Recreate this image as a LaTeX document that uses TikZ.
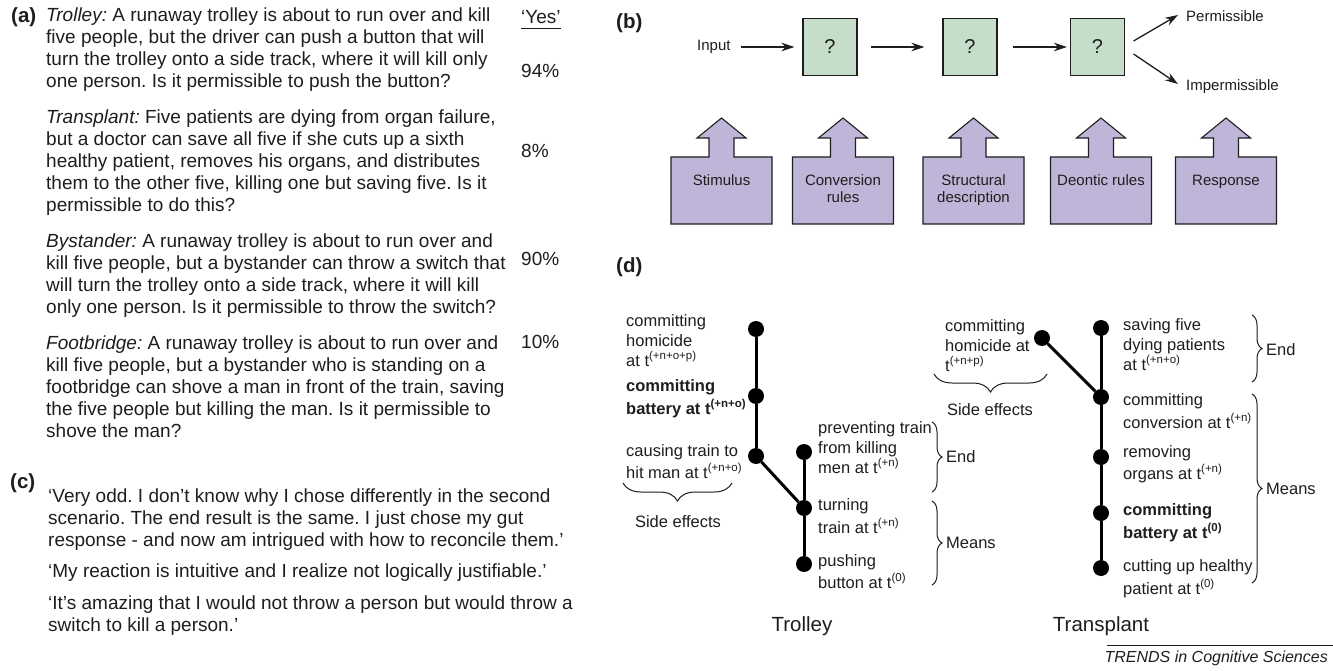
\documentclass[tikz,border=0pt]{standalone}
\usepackage{fontspec}
\setmainfont{Liberation Sans}
\usetikzlibrary{arrows.meta,decorations.pathreplacing,calc}

\definecolor{boxgreen}{RGB}{198,222,201}
\definecolor{boxpurple}{RGB}{191,181,216}
\definecolor{ink}{RGB}{30,30,30}

% raised exponent used in the time stamps t^(...)
\newcommand\expo[1]{\raisebox{0.42em}{\fontsize{11.5}{12}\selectfont #1}}
\newcommand\fa{\fontsize{19}{22}\selectfont}
\newcommand\fb{\fontsize{15}{17}\selectfont}
\newcommand\fd{\fontsize{16.5}{20}\selectfont}

\begin{document}
\frenchspacing
\begin{tikzpicture}[x=1pt,y=-1pt,
  every node/.style={inner sep=0pt,text=ink},
  panel/.style={font=\fontsize{20.5}{24}\selectfont\bfseries,anchor=west},
  para/.style={font=\fa,align=left,anchor=west},
  pct/.style={font=\fa,anchor=west},
  qbox/.style={draw=ink,line width=1.1pt,fill=boxgreen,minimum width=54pt,
    minimum height=57pt,font=\fontsize{20}{24}\selectfont},
  flow/.style={-{Stealth[length=13pt,width=8.5pt]},line width=1.3pt,draw=ink},
  btext/.style={font=\fb},
  pshape/.style={draw=ink,line width=1.1pt,fill=boxpurple,line join=miter},
  ptext/.style={font=\fb,align=center,anchor=north},
  dtext/.style={font=\fd,align=left,anchor=west},
  dot/.style={circle,fill=black,minimum size=16pt,inner sep=0pt},
  track/.style={line width=3pt,draw=black},
  brc/.style={decorate,decoration={brace,amplitude=10pt},line width=1pt,draw=ink},
  wbrc/.style={decorate,decoration={brace,mirror,amplitude=18pt},line width=1pt,draw=ink}
]
\useasboundingbox[fill=white] (0,0) rectangle (1333,671);

% ---------------- (a) scenarios ----------------
\node[panel] (la) at (11,17) {(a)};
\node[para] (p1) at (46,50) {\strut\textit{Trolley:} A runaway trolley is about to run over and kill\\
five people, but the driver can push a button that will\\
turn the trolley onto a side track, where it will kill only\\
one person. Is it permissible to push the button?\strut};
\node[para] (p2) at (46,163) {\strut\textit{Transplant:} Five patients are dying from organ failure,\\
but a doctor can save all five if she cuts up a sixth\\
healthy patient, removes his organs, and distributes\\
them to the other five, killing one but saving five. Is it\\
permissible to do this?\strut};
\node[para] (p3) at (46,276) {\strut\textit{Bystander:} A runaway trolley is about to run over and\\
kill five people, but a bystander can throw a switch that\\
will turn the trolley onto a side track, where it will kill\\
only one person. Is it permissible to throw the switch?\strut};
\node[para] (p4) at (46,389) {\strut\textit{Footbridge:} A runaway trolley is about to run over and\\
kill five people, but a bystander who is standing on a\\
footbridge can shove a man in front of the train, saving\\
the five people but killing the man. Is it permissible to\\
shove the man?\strut};

\node[pct] (yes) at (521,17) {‘Yes’};
\draw[line width=0.8pt,draw=ink] ([yshift=-5pt]yes.south west) -- ([yshift=-5pt]yes.south east);
\node[pct] (r1) at (521,71) {94\%};
\node[pct] (r2) at (521,151) {8\%};
\node[pct] (r3) at (521,259) {90\%};
\node[pct] (r4) at (521,342) {10\%};

% ---------------- (c) comments ----------------
\node[panel] (lc) at (10,483) {(c)};
\node[para] (q1) at (48,520) {\strut‘Very odd. I don’t know why I chose differently in the second\\
scenario. The end result is the same. I just chose my gut\\
response - and now am intrigued with how to reconcile them.’\strut};
\node[para] (q2) at (48,573) {\strut‘My reaction is intuitive and I realize not logically justifiable.’\strut};
\node[para] (q3) at (48,616) {\strut‘It’s amazing that I would not throw a person but would throw a\\
switch to kill a person.’\strut};

% ---------------- (b) processing chain ----------------
\node[panel] (lb) at (616,23) {(b)};
\node[btext,anchor=west] (in) at (697,47) {Input};
\node[qbox] (b1) at (830,47) {?};
\node[qbox] (b2) at (970,47) {?};
\node[qbox] (b3) at (1097.5,47) {?};
\node[btext,anchor=west] (perm) at (1186,16) {Permissible};
\node[btext,anchor=west] (imp) at (1186,87) {Impermissible};

\draw[flow,shorten <=10pt,shorten >=8pt] (in.east) -- (b1.west);
\draw[flow,shorten <=13pt,shorten >=18pt] (b1.east) -- (b2.west);
\draw[flow,shorten <=15pt,shorten >=3pt] (b2.east) -- (b3.west);
\draw[flow] ([xshift=8.5pt,yshift=6pt]b3.east) -- ([xshift=-8pt,yshift=1pt]perm.west);
\draw[flow] ([xshift=8.5pt,yshift=-7pt]b3.east) -- ([xshift=-8pt,yshift=3pt]imp.west);

% block arrows carrying the stages
\foreach \cx/\lbl/\nm in {721.5/Stimulus/s1,843/{Conversion\\rules}/s2,
    973.5/{Structural\\description}/s3,1101/{Deontic rules}/s4,1226/Response/s5}{
  \draw[pshape] (\cx-50.5,224) -- (\cx-50.5,157) -- (\cx-12.5,157) -- (\cx-12.5,138)
    -- (\cx-24.5,138) -- (\cx,118) -- (\cx+24.5,138) -- (\cx+12.5,138)
    -- (\cx+12.5,157) -- (\cx+50.5,157) -- (\cx+50.5,224) -- cycle;
  \node[ptext] (\nm) at (\cx,173) {\strut\lbl\strut};
}

% ---------------- (d) action trees ----------------
\node[panel] (ld) at (616,267) {(d)};

% Trolley tree
\node[dot] (A) at (756,329) {};
\node[dot] (B) at (756,396) {};
\node[dot] (C) at (756,456) {};
\node[dot] (D) at (804,452) {};
\node[dot] (E) at (804,508) {};
\node[dot] (F) at (804,564) {};
\draw[track] (A) -- (B) -- (C);
\draw[track] (C) -- (E);
\draw[track] (D) -- (E) -- (F);

\node[dtext] (tA) at (626,342) {\strut committing\\homicide\\at t\expo{(+n+o+p)}\strut};
\node[dtext,font=\fd\bfseries] (tB) at (626,399) {\strut committing\\battery at t\expo{(+n+o)}\strut};
\node[dtext] (tC) at (626,463.5) {\strut causing train to\\hit man at t\expo{(+n+o)}\strut};
\node[dtext] (tD) at (818,449) {\strut preventing train\\from killing\\men at t\expo{(+n)}\strut};
\node[dtext] (tE) at (818,518) {\strut turning\\train at t\expo{(+n)}\strut};
\node[dtext] (tF) at (818,573.5) {\strut pushing\\button at t\expo{(0)}\strut};

\coordinate (se1a) at (623,483);
\coordinate (se1b) at (732,483);
\draw[wbrc] (se1a) -- (se1b);
\node[font=\fd] (se1) at (678,522) {Side effects};

\coordinate (en1a) at (932,422);
\coordinate (en1b) at (932,492);
\draw[brc] (en1a) -- (en1b);
\node[font=\fd,anchor=west] (en1) at (946,457) {End};
\coordinate (me1a) at (932,501);
\coordinate (me1b) at (932,585);
\draw[brc] (me1a) -- (me1b);
\node[font=\fd,anchor=west] (me1) at (946,543) {Means};

\node[font=\fontsize{20.5}{24}\selectfont] (ttl1) at (802,626) {Trolley};

% Transplant tree
\node[dot] (G) at (1042,338) {};
\node[dot] (H) at (1101,328) {};
\node[dot] (I) at (1101,397) {};
\node[dot] (J) at (1101,457) {};
\node[dot] (K) at (1101,513) {};
\node[dot] (L) at (1101,568) {};
\draw[track] (G) -- (I);
\draw[track] (H) -- (I) -- (J) -- (K) -- (L);

\node[dtext] (uG) at (945,347) {\strut committing\\homicide at\\t\expo{(+n+p)}\strut};
\node[dtext] (uH) at (1123,346) {\strut saving five\\dying patients\\at t\expo{(+n+o)}\strut};
\node[dtext] (uI) at (1123,413) {\strut committing\\conversion at t\expo{(+n)}\strut};
\node[dtext] (uJ) at (1123,464.5) {\strut removing\\organs at t\expo{(+n)}\strut};
\node[dtext,font=\fd\bfseries] (uK) at (1123,523) {\strut committing\\battery at t\expo{(0)}\strut};
\node[dtext] (uL) at (1123,579) {\strut cutting up healthy\\patient at t\expo{(0)}\strut};

\coordinate (se2a) at (934,374);
\coordinate (se2b) at (1047,374);
\draw[wbrc] (se2a) -- (se2b);
\node[font=\fd] (se2) at (990,410) {Side effects};

\coordinate (en2a) at (1252,315);
\coordinate (en2b) at (1252,382);
\draw[brc] (en2a) -- (en2b);
\node[font=\fd,anchor=west] (en2) at (1266,350) {End};
\coordinate (me2a) at (1252,394);
\coordinate (me2b) at (1252,583);
\draw[brc] (me2a) -- (me2b);
\node[font=\fd,anchor=west] (me2) at (1266,489) {Means};

\node[font=\fontsize{20.5}{24}\selectfont] (ttl2) at (1101,626) {Transplant};

% source line
\node[font=\fontsize{16}{19}\selectfont\itshape,anchor=east] (src) at (1328,658) {TRENDS in Cognitive Sciences};
\draw[line width=0.8pt,draw=ink] (1107,645) -- (1333,645);
\end{tikzpicture}
\end{document}
